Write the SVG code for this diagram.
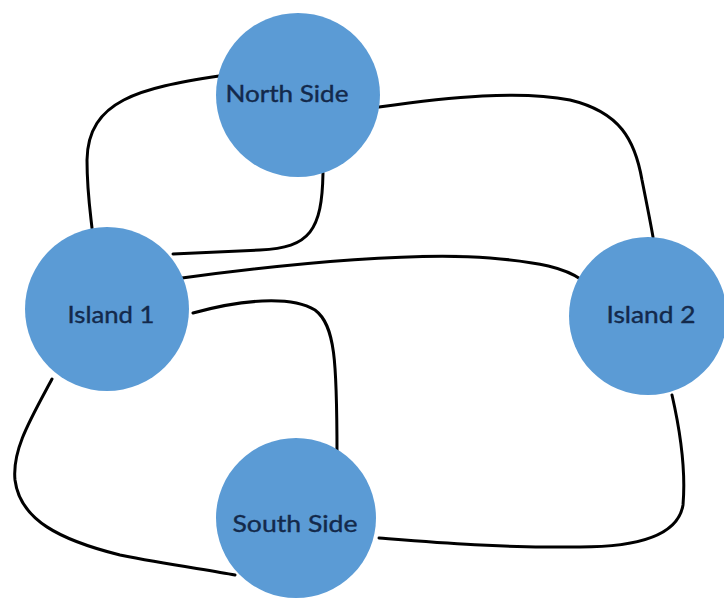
<svg xmlns="http://www.w3.org/2000/svg" width="724" height="598" viewBox="0 0 724 598">
<style>
.node{fill:#5b9bd5;}
.lbl{font-family:Lato,"Open Sans","Liberation Sans",sans-serif;font-size:24px;fill:#13294b;stroke:#13294b;stroke-width:0.4;text-anchor:middle;}
.edge{fill:none;stroke:#000;stroke-width:3;stroke-linecap:round;}
</style>
<rect width="724" height="598" fill="#fff"/>
<g id="connectors">
<path class="edge" d="M219,76 C140,88 88,100 87,160 C87,190 90,210 92,228"/>
<path class="edge" d="M323,173 C322,230 310,248 260,250 C220,252 190,253 173,254"/>
<path class="edge" d="M379,107 C450,97 520,90 570,100 C620,112 635,140 642,180 C648,210 651,225 653,237"/>
<path class="edge" d="M182,278 C300,262 420,252 490,258 C540,262 565,268 582,280"/>
<path class="edge" d="M193,313 C240,300 290,295 315,310 C335,325 337,360 337,455"/>
<path class="edge" d="M52,379 C30,420 12,450 15,480 C20,520 60,540 120,555 C170,565 210,570 235,575"/>
<path class="edge" d="M672,395 C680,430 686,470 683,505 C678,535 640,547 580,547 C500,548 430,542 379,538"/>
</g>
<g id="north-side">
<circle class="node" cx="298" cy="95" r="82"/>
<text class="lbl" x="287" y="102" textLength="123" lengthAdjust="spacingAndGlyphs">North Side</text>
</g>
<g id="island-1">
<circle class="node" cx="107" cy="309" r="82"/>
<text class="lbl" x="111" y="323" textLength="87" lengthAdjust="spacingAndGlyphs">Island 1</text>
</g>
<g id="island-2">
<circle class="node" cx="648" cy="316" r="79"/>
<text class="lbl" x="651" y="323" textLength="89" lengthAdjust="spacingAndGlyphs">Island 2</text>
</g>
<g id="south-side">
<circle class="node" cx="296" cy="518" r="80"/>
<text class="lbl" x="295" y="532" textLength="125" lengthAdjust="spacingAndGlyphs">South Side</text>
</g>
</svg>
